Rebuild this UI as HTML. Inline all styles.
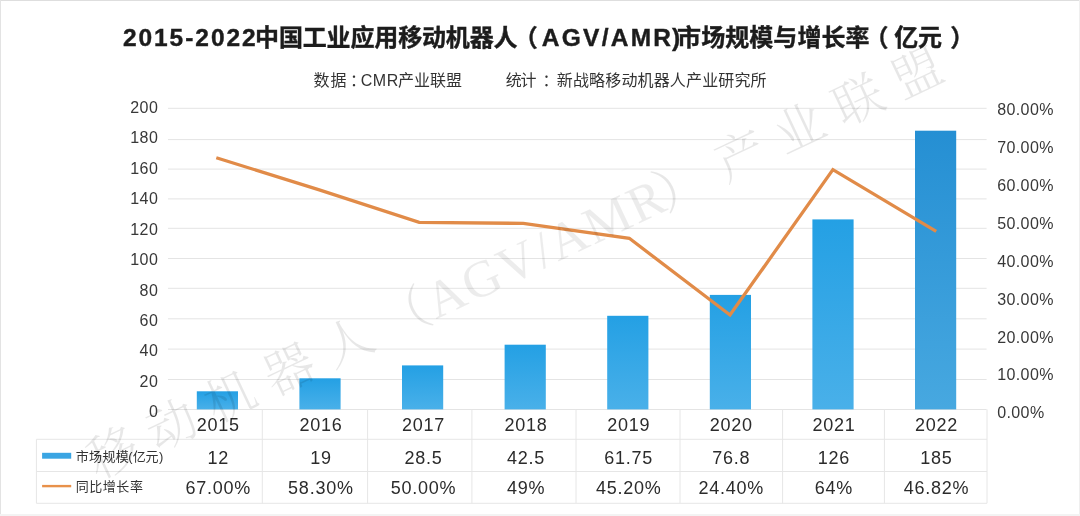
<!DOCTYPE html>
<html lang="zh-CN"><head><meta charset="utf-8"><title>2015-2022中国工业应用移动机器人市场规模与增长率</title>
<style>
html,body{margin:0;padding:0;background:#fff;}
body{width:1080px;height:516px;overflow:hidden;position:relative;}
svg{position:absolute;left:0;top:0;display:block;}
text{font-family:"Liberation Sans","Noto Sans CJK SC",sans-serif;fill:#262626;}
.ax{font-size:16px;fill:#383838;}
.yr{font-size:18px;letter-spacing:0.75px;fill:#2b2b2b;}
.tt{font-size:24px;font-weight:bold;fill:#1c1c1c;stroke:#1c1c1c;stroke-width:0.4px;}
.tt .la{font-size:24.5px;}
.st{font-size:16px;fill:#333;}
.lg{font-size:13px;fill:#333;}
.wm{font-family:"Liberation Serif","Noto Serif CJK SC",serif;font-weight:300;font-size:50px;fill:#000;fill-opacity:0.095;}
</style></head><body>
<svg width="1080" height="516" viewBox="0 0 1080 516">
<defs>
<linearGradient id="g1" x1="0" y1="0" x2="0" y2="1"><stop offset="0" stop-color="#24a0e4"/><stop offset="1" stop-color="#49b0e9"/></linearGradient>
<linearGradient id="g2" x1="0" y1="0" x2="0" y2="1"><stop offset="0" stop-color="#258fd3"/><stop offset="1" stop-color="#47a8e0"/></linearGradient>
</defs>
<rect x="0" y="0" width="1080" height="516" fill="#ffffff"/>
<rect x="0" y="0" width="1080" height="1" fill="#dedede"/><rect x="0" y="0" width="1" height="516" fill="#e3e3e3"/><rect x="1079" y="0" width="1" height="516" fill="#efefef"/><rect x="0" y="514" width="1080" height="2" fill="#f3f3f3"/>

<line x1="168" x2="986.6" y1="108.30" y2="108.30" stroke="#e4e4e4" stroke-width="1"/>
<line x1="168" x2="986.6" y1="139.60" y2="139.60" stroke="#e4e4e4" stroke-width="1"/>
<line x1="168" x2="986.6" y1="169.10" y2="169.10" stroke="#e4e4e4" stroke-width="1"/>
<line x1="168" x2="986.6" y1="198.90" y2="198.90" stroke="#e4e4e4" stroke-width="1"/>
<line x1="168" x2="986.6" y1="228.30" y2="228.30" stroke="#e4e4e4" stroke-width="1"/>
<line x1="168" x2="986.6" y1="258.50" y2="258.50" stroke="#e4e4e4" stroke-width="1"/>
<line x1="168" x2="986.6" y1="288.30" y2="288.30" stroke="#e4e4e4" stroke-width="1"/>
<line x1="168" x2="986.6" y1="318.80" y2="318.80" stroke="#e4e4e4" stroke-width="1"/>
<line x1="168" x2="986.6" y1="349.10" y2="349.10" stroke="#e4e4e4" stroke-width="1"/>
<line x1="168" x2="986.6" y1="379.50" y2="379.50" stroke="#e4e4e4" stroke-width="1"/>
<line x1="168" x2="986.6" y1="409.50" y2="409.50" stroke="#e4e4e4" stroke-width="1"/>
<rect x="196.8" y="391.3" width="41.2" height="18.1" fill="url(#g1)"/>
<rect x="299.4" y="378.3" width="41.2" height="31.1" fill="url(#g1)"/>
<rect x="402.0" y="365.4" width="41.2" height="44.0" fill="url(#g1)"/>
<rect x="504.6" y="344.7" width="41.2" height="64.7" fill="url(#g1)"/>
<rect x="607.2" y="315.8" width="41.2" height="93.6" fill="url(#g1)"/>
<rect x="709.8" y="294.9" width="41.2" height="114.5" fill="url(#g1)"/>
<rect x="812.4" y="219.4" width="41.2" height="190.0" fill="url(#g1)"/>
<rect x="915.0" y="130.7" width="41.2" height="278.7" fill="url(#g2)"/>
<polyline points="216.3,157.75 318.5,189.6 419.2,222.4 523.3,223.4 629.3,238.3 730,315 832.9,169.6 936.2,231.3" fill="none" stroke="#e18b48" stroke-width="3.3" stroke-linejoin="miter" stroke-linecap="butt"/>
<line x1="36.4" x2="987" y1="439.3" y2="439.3" stroke="#e6e6e6" stroke-width="1"/>
<line x1="36.4" x2="987" y1="471.5" y2="471.5" stroke="#e6e6e6" stroke-width="1"/>
<line x1="36.4" x2="987" y1="503.3" y2="503.3" stroke="#e6e6e6" stroke-width="1"/>
<line x1="36.4" x2="36.4" y1="439.3" y2="503.3" stroke="#e6e6e6" stroke-width="1"/>
<line x1="262.3" x2="262.3" y1="409.4" y2="503.3" stroke="#e6e6e6" stroke-width="1"/>
<line x1="367.6" x2="367.6" y1="409.4" y2="503.3" stroke="#e6e6e6" stroke-width="1"/>
<line x1="471.9" x2="471.9" y1="409.4" y2="503.3" stroke="#e6e6e6" stroke-width="1"/>
<line x1="576" x2="576" y1="409.4" y2="503.3" stroke="#e6e6e6" stroke-width="1"/>
<line x1="680" x2="680" y1="409.4" y2="503.3" stroke="#e6e6e6" stroke-width="1"/>
<line x1="782.6" x2="782.6" y1="409.4" y2="503.3" stroke="#e6e6e6" stroke-width="1"/>
<line x1="884.4" x2="884.4" y1="409.4" y2="503.3" stroke="#e6e6e6" stroke-width="1"/>
<line x1="987" x2="987" y1="409.4" y2="503.3" stroke="#e6e6e6" stroke-width="1"/>
<text class="ax" x="158.3" y="113.0" text-anchor="end" style="letter-spacing:0.45px">200</text>
<text class="ax" x="158.3" y="143.4" text-anchor="end" style="letter-spacing:0.45px">180</text>
<text class="ax" x="158.3" y="173.9" text-anchor="end" style="letter-spacing:0.45px">160</text>
<text class="ax" x="158.3" y="204.3" text-anchor="end" style="letter-spacing:0.45px">140</text>
<text class="ax" x="158.3" y="234.7" text-anchor="end" style="letter-spacing:0.45px">120</text>
<text class="ax" x="158.3" y="265.1" text-anchor="end" style="letter-spacing:0.45px">100</text>
<text class="ax" x="158.3" y="295.6" text-anchor="end" style="letter-spacing:0.45px">80</text>
<text class="ax" x="158.3" y="326.0" text-anchor="end" style="letter-spacing:0.45px">60</text>
<text class="ax" x="158.3" y="356.4" text-anchor="end" style="letter-spacing:0.45px">40</text>
<text class="ax" x="158.3" y="386.9" text-anchor="end" style="letter-spacing:0.45px">20</text>
<text class="ax" x="158.3" y="417.3" text-anchor="end" style="letter-spacing:0.45px">0</text>
<text class="ax" x="997.3" y="115.3" style="letter-spacing:0.36px">80.00%</text>
<text class="ax" x="997.3" y="153.2" style="letter-spacing:0.36px">70.00%</text>
<text class="ax" x="997.3" y="191.1" style="letter-spacing:0.36px">60.00%</text>
<text class="ax" x="997.3" y="228.9" style="letter-spacing:0.36px">50.00%</text>
<text class="ax" x="997.3" y="266.8" style="letter-spacing:0.36px">40.00%</text>
<text class="ax" x="997.3" y="304.6" style="letter-spacing:0.36px">30.00%</text>
<text class="ax" x="997.3" y="342.5" style="letter-spacing:0.36px">20.00%</text>
<text class="ax" x="997.3" y="380.4" style="letter-spacing:0.36px">10.00%</text>
<text class="ax" x="997.3" y="418.2" style="letter-spacing:0.36px">0.00%</text>
<text class="yr" x="218.3" y="430.9" text-anchor="middle">2015</text>
<text class="yr" x="218.3" y="463.8" text-anchor="middle">12</text>
<text class="yr" x="218.3" y="494.1" text-anchor="middle">67.00%</text>
<text class="yr" x="320.9" y="430.9" text-anchor="middle">2016</text>
<text class="yr" x="320.9" y="463.8" text-anchor="middle">19</text>
<text class="yr" x="320.9" y="494.1" text-anchor="middle">58.30%</text>
<text class="yr" x="423.5" y="430.9" text-anchor="middle">2017</text>
<text class="yr" x="423.5" y="463.8" text-anchor="middle">28.5</text>
<text class="yr" x="423.5" y="494.1" text-anchor="middle">50.00%</text>
<text class="yr" x="526.1" y="430.9" text-anchor="middle">2018</text>
<text class="yr" x="526.1" y="463.8" text-anchor="middle">42.5</text>
<text class="yr" x="526.1" y="494.1" text-anchor="middle">49%</text>
<text class="yr" x="628.7" y="430.9" text-anchor="middle">2019</text>
<text class="yr" x="628.7" y="463.8" text-anchor="middle">61.75</text>
<text class="yr" x="628.7" y="494.1" text-anchor="middle">45.20%</text>
<text class="yr" x="731.3" y="430.9" text-anchor="middle">2020</text>
<text class="yr" x="731.3" y="463.8" text-anchor="middle">76.8</text>
<text class="yr" x="731.3" y="494.1" text-anchor="middle">24.40%</text>
<text class="yr" x="833.9" y="430.9" text-anchor="middle">2021</text>
<text class="yr" x="833.9" y="463.8" text-anchor="middle">126</text>
<text class="yr" x="833.9" y="494.1" text-anchor="middle">64%</text>
<text class="yr" x="936.5" y="430.9" text-anchor="middle">2022</text>
<text class="yr" x="936.5" y="463.8" text-anchor="middle">185</text>
<text class="yr" x="936.5" y="494.1" text-anchor="middle">46.82%</text>
<rect x="42.1" y="452.8" width="29.1" height="5.9" fill="#3aa5e3"/>
<line x1="42.1" x2="71.2" y1="486.1" y2="486.1" stroke="#e8914a" stroke-width="2.4"/>
<text class="lg" y="460.6"><tspan x="75.7" style="letter-spacing:0.37px">市场规模</tspan><tspan x="128.3">(</tspan><tspan x="132.7" style="letter-spacing:-0.3px">亿元</tspan><tspan x="158.9">)</tspan></text>
<text class="lg" x="75.7" y="491" style="letter-spacing:0.55px">同比增长率</text>
<text class="tt" y="46.1"><tspan class="la" x="122.9" style="letter-spacing:1.95px">2015-2022</tspan><tspan x="255.1" style="letter-spacing:-0.16px">中国工业应用移动机器人</tspan><tspan x="513.7">（</tspan><tspan class="la" x="541.8" style="letter-spacing:2.25px">AGV/AMR</tspan><tspan class="la" x="671.9">)</tspan><tspan x="677.1" style="letter-spacing:0.07px">市场规模与增长率</tspan><tspan x="864.6">（</tspan><tspan x="894.2" style="letter-spacing:-0.2px">亿元</tspan><tspan x="950.2">）</tspan></text>
<text class="st" y="85.6"><tspan x="313.4" style="letter-spacing:1.2px">数据</tspan><tspan x="349.9">：</tspan><tspan x="360.8" style="letter-spacing:0.5px">CMR</tspan><tspan x="397.9" style="letter-spacing:0.07px">产业联盟 </tspan><tspan x="505.7" style="letter-spacing:-1.1px">统计</tspan><tspan x="542.6">： </tspan><tspan x="556.8" style="letter-spacing:0.15px">新战略移动机器人产业研究所</tspan></text>
<text class="wm" transform="translate(112.5,452) rotate(-25.3)" y="18.5"><tspan x="-25" style="letter-spacing:15px">移动机器人</tspan><tspan dx="-2">（</tspan><tspan dx="1" style="letter-spacing:2px;font-size:52px;fill-opacity:0.075">AGV/AMR</tspan><tspan dx="-6" style="letter-spacing:17px">）</tspan><tspan style="letter-spacing:15px">产业联盟</tspan></text>
</svg></body></html>
